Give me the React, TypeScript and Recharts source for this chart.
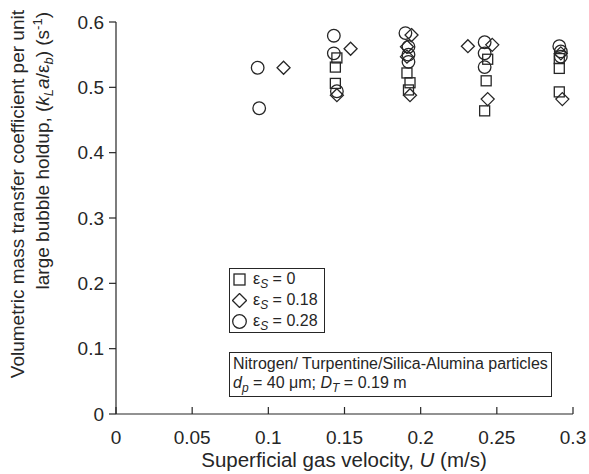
import React from 'react';
import { ScatterChart, Scatter, XAxis, YAxis, Legend } from 'recharts';

const FONT = '"Liberation Sans", Arial, Helvetica, sans-serif';
const INK = '#262626';

const xTicks = [0, 0.05, 0.1, 0.15, 0.2, 0.25, 0.3];
const yTicks = [0, 0.1, 0.2, 0.3, 0.4, 0.5, 0.6];

// eps_s = 0 (squares)
const uSolids0 = [0.145, 0.144, 0.144, 0.191, 0.193, 0.192, 0.244, 0.243, 0.242, 0.291, 0.291, 0.291];
const kSolids0 = [0.545, 0.531, 0.506, 0.522, 0.507, 0.496, 0.543, 0.510, 0.464, 0.544, 0.529, 0.493];

// eps_s = 0.18 (diamonds)
const uSolids18 = [0.110, 0.154, 0.145, 0.194, 0.191, 0.191, 0.193, 0.231, 0.247, 0.244, 0.292, 0.293];
const kSolids18 = [0.530, 0.559, 0.488, 0.580, 0.562, 0.547, 0.488, 0.563, 0.565, 0.482, 0.552, 0.482];

// eps_s = 0.28 (circles)
const uSolids28 = [0.093, 0.094, 0.143, 0.143, 0.145, 0.190, 0.192, 0.192, 0.192, 0.242, 0.242, 0.242, 0.291, 0.292, 0.292];
const kSolids28 = [0.530, 0.468, 0.579, 0.552, 0.494, 0.583, 0.562, 0.550, 0.539, 0.569, 0.552, 0.531, 0.563, 0.555, 0.547];

const toPoints = (u: number[], k: number[]) => u.map((x, i) => ({ u: x, k: k[i] }));

const SquareShape = (p: any) => (
  <rect x={p.cx - 5} y={p.cy - 5} width={10} height={10} fill="none" stroke={INK} strokeWidth={1.3} />
);
const DiamondShape = (p: any) => (
  <path
    d={`M${p.cx},${p.cy - 6.5}L${p.cx + 6.5},${p.cy}L${p.cx},${p.cy + 6.5}L${p.cx - 6.5},${p.cy}Z`}
    fill="none"
    stroke={INK}
    strokeWidth={1.3}
  />
);
const CircleShape = (p: any) => (
  <circle cx={p.cx} cy={p.cy} r={6.3} fill="none" stroke={INK} strokeWidth={1.3} />
);

const XTick = ({ x, y, payload }: any) => (
  <g>
    <line x1={x} x2={x} y1={y} y2={y - 7} stroke={INK} strokeWidth={1.2} />
    <text x={x} y={y + 30} textAnchor="middle" fontSize={19} fill={INK}>
      {payload.value}
    </text>
  </g>
);

const XTitle = () => (
  <text x={344} y={467} textAnchor="middle" fontSize={20.5} fill={INK}>
    Superficial gas velocity, <tspan fontStyle="italic">U</tspan> (m/s)
  </text>
);

const YTitle = () => (
  <g>
    <text transform="translate(24,10) rotate(-90)" textAnchor="end" fontSize={19} fill={INK}>
      Volumetric mass transfer coefficient per unit
    </text>
    <text transform="translate(49,12) rotate(-90)" textAnchor="end" fontSize={19} fill={INK}>
      large bubble holdup, (<tspan fontStyle="italic">k</tspan>
      <tspan fontStyle="italic" fontSize={13} dy={4}>L</tspan>
      <tspan dy={-4} fontStyle="italic">a</tspan>/ε
      <tspan fontStyle="italic" fontSize={13} dy={4}>b</tspan>
      <tspan dy={-4}>) (s</tspan>
      <tspan fontSize={13} dy={-7}>-1</tspan>
      <tspan dy={7}>)</tspan>
    </text>
  </g>
);

const subStyle: React.CSSProperties = { fontStyle: 'italic', fontSize: '0.75em', position: 'relative', top: '0.3em' };

const legendRows = [
  { label: '0', icon: <rect x={2} y={2} width={11} height={11} fill="none" stroke={INK} strokeWidth={1.3} /> },
  { label: '0.18', icon: <path d="M7.5,0.5L14.5,7.5L7.5,14.5L0.5,7.5Z" fill="none" stroke={INK} strokeWidth={1.3} /> },
  { label: '0.28', icon: <circle cx={7.5} cy={7.5} r={6.8} fill="none" stroke={INK} strokeWidth={1.3} /> },
];

const Boxes = () => (
  <div style={{ position: 'relative', width: 0, height: 0, fontFamily: FONT, color: INK }}>
    <div
      style={{
        position: 'absolute', left: 229, top: 268, width: 94, height: 63,
        border: `1px solid ${INK}`, background: '#fff', fontSize: 16, lineHeight: '21px',
        whiteSpace: 'nowrap',
      }}
    >
      {legendRows.map((r) => (
        <div key={r.label} style={{ display: 'flex', alignItems: 'center', height: 21, paddingLeft: 2 }}>
          <svg width={15} height={15} style={{ marginRight: 6 }}>{r.icon}</svg>
          <span>ε<span style={subStyle}>S</span> = {r.label}</span>
        </div>
      ))}
    </div>
    <div
      style={{
        position: 'absolute', left: 229, top: 352, padding: '1px 3px 2px 3px',
        border: `1px solid ${INK}`, background: '#fff', fontSize: 16, lineHeight: '19px', whiteSpace: 'nowrap',
      }}
    >
      <div>Nitrogen/ Turpentine/Silica-Alumina particles</div>
      <div>
        <i>d</i><span style={subStyle}>p</span> = 40 μm; <i>D</i><span style={subStyle}>T</span> = 0.19 m
      </div>
    </div>
  </div>
);

export default function App() {
  return (
    <div style={{ position: 'absolute', left: 0, top: 0 }}>
      <ScatterChart
        width={589}
        height={474}
        margin={{ top: 22, right: 16, bottom: 0, left: 0 }}
        style={{ fontFamily: FONT }}
      >
        <XAxis
          dataKey="u"
          type="number"
          domain={[0, 0.3]}
          ticks={xTicks}
          interval={0}
          height={60}
          tickSize={0}
          tickMargin={0}
          tickLine={false}
          tick={<XTick />}
          axisLine={{ stroke: INK, strokeWidth: 1.2 }}
          label={{ content: <XTitle /> }}
        />
        <XAxis xAxisId="top" orientation="top" type="number" domain={[0, 0.3]} height={0} tick={false} tickLine={false} axisLine={{ stroke: INK, strokeWidth: 1.2 }} />
        <YAxis
          dataKey="k"
          type="number"
          domain={[0, 0.6]}
          ticks={yTicks}
          interval={0}
          width={116}
          tickSize={7}
          tickMargin={5}
          tick={{ fill: INK, fontSize: 19 }}
          tickLine={{ stroke: INK, strokeWidth: 1.2 }}
          axisLine={{ stroke: INK, strokeWidth: 1.2 }}
          label={{ content: <YTitle /> }}
        />
        <YAxis yAxisId="right" orientation="right" type="number" domain={[0, 0.6]} width={0} tick={false} tickLine={false} axisLine={{ stroke: INK, strokeWidth: 1.2 }} />
        <Scatter name="εs = 0" data={toPoints(uSolids0, kSolids0)} shape={SquareShape} isAnimationActive={false} />
        <Scatter name="εs = 0.18" data={toPoints(uSolids18, kSolids18)} shape={DiamondShape} isAnimationActive={false} />
        <Scatter name="εs = 0.28" data={toPoints(uSolids28, kSolids28)} shape={CircleShape} isAnimationActive={false} />
        <Legend content={<Boxes />} wrapperStyle={{ left: 0, top: 0, width: 0, height: 0 }} />
      </ScatterChart>
    </div>
  );
}
